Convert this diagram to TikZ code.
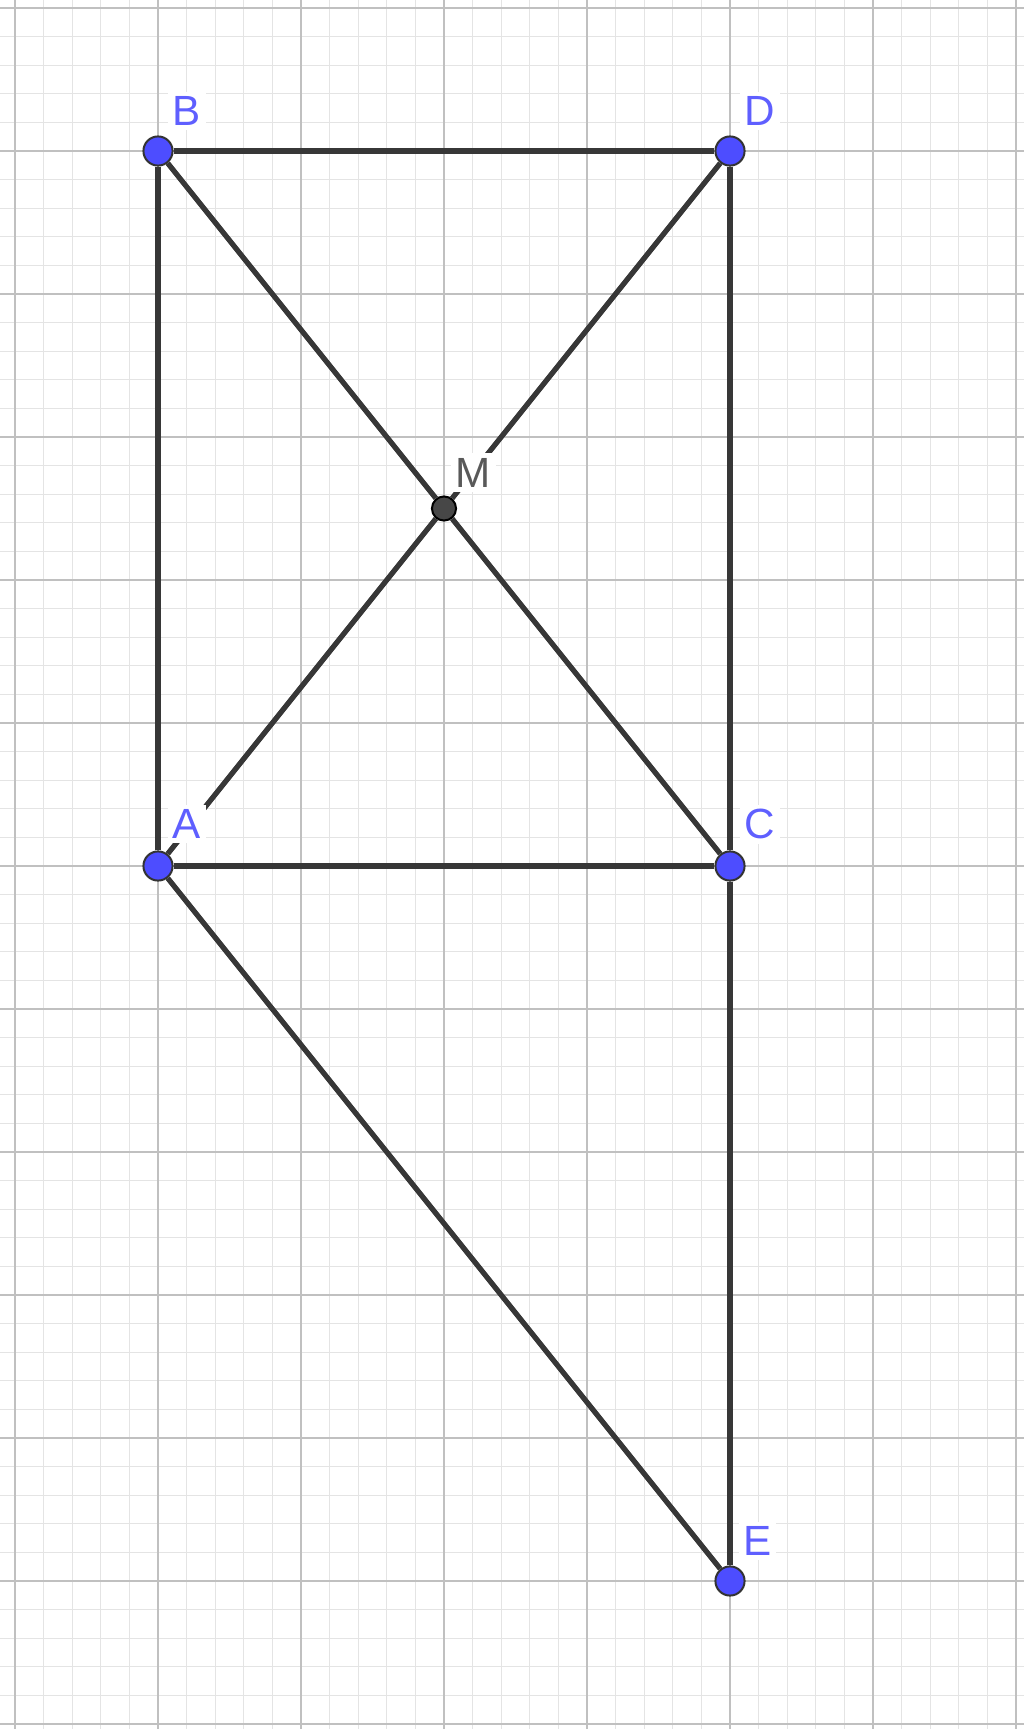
\documentclass[tikz,border=0pt]{standalone}
\usepackage{fontspec}
\setmainfont{Liberation Sans}
\definecolor{ptblue}{RGB}{77,77,255}
\definecolor{lblblue}{RGB}{95,95,255}
\definecolor{segcol}{RGB}{55,55,55}
\definecolor{majgrid}{RGB}{192,192,192}
\definecolor{mingrid}{RGB}{228,228,228}

\begin{document}
\begin{tikzpicture}[
    pt/.style = {circle, fill = ptblue, draw = black!80, line width = .4pt, inner sep = 0pt, minimum size = 5.8pt},
    midpt/.style = {circle, fill = black!72, draw = black, line width = .4pt, inner sep = 0pt, minimum size = 4.8pt},
    seg/.style = {draw = segcol, line width = 1.05pt},
    lbl/.style = {anchor = base west, inner sep = .9pt, fill = white, text = lblblue, font = \fontsize{8.4}{9}\selectfont}
  ]
			\useasboundingbox (-1.105,-6.035) rectangle (6.056,6.056);
			\draw [mingrid, line width = .25pt, step = .2] (-1.105,-6.035) grid (6.056,6.056);
			\draw [majgrid, line width = .45pt, step = 1] (-1.105,-6.035) grid (6.056,6.056);
			% points
			\node[pt] (A) at (0,0) {};
			\node[pt] (B) at (0,5) {};
			\node[pt] (C) at (4,0) {};
			\node[pt] (D) at (4,5) {};
			\node[pt] (E) at (4,-5) {};
			\node[midpt] (M) at (2,2.5) {};
			% segments
			\draw [seg] (B) -- (D);
			\draw [seg] (A) -- (B);
			\draw [seg] (A) -- (C);
			\draw [seg] (D) -- (C);
			\draw [seg] (C) -- (E);
			\draw [seg] (A) -- (E);
			\draw [seg] (B) -- (M);
			\draw [seg] (M) -- (C);
			\draw [seg] (A) -- (M);
			\draw [seg] (M) -- (D);
			% labels
			\node[lbl] (lA) at ([shift={(.065,.19)}]A.center) {A};
			\node[lbl] (lB) at ([shift={(.065,.18)}]B.center) {B};
			\node[lbl] (lC) at ([shift={(.065,.19)}]C.center) {C};
			\node[lbl] (lD) at ([shift={(.065,.18)}]D.center) {D};
			\node[lbl] (lE) at ([shift={(.055,.18)}]E.center) {E};
			\node[lbl, text = black!65] (lM) at ([shift={(.045,.15)}]M.center) {M};
			\end{tikzpicture}
\end{document}
